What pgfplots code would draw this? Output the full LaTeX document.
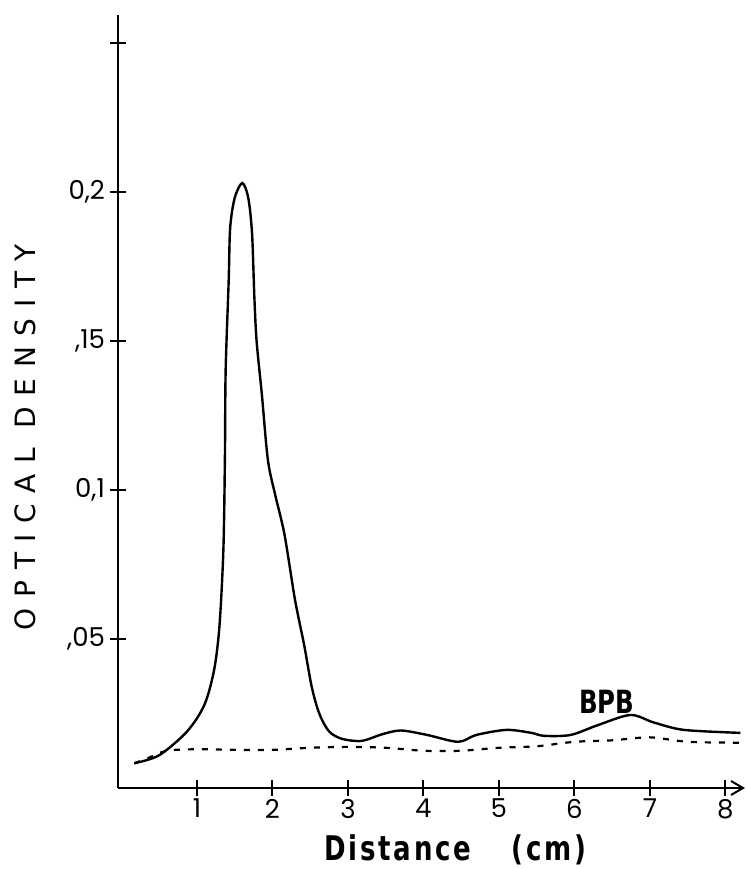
\documentclass[border=0pt]{standalone}
\usepackage{fontspec}
\usepackage{pgfplots}
\pgfplotsset{compat=1.18}
\usetikzlibrary{arrows.meta}
\setmainfont{DejaVu Sans}
\newfontfamily\tickfont{Poppins}
\newfontfamily\labfont{DejaVu Sans}[LetterSpace=38]
\newfontfamily\condfont{DejaVu Sans Condensed}[FakeStretch=0.85,LetterSpace=8]
\newfontfamily\bpbfont{DejaVu Sans Condensed}[FakeStretch=0.85]
\begin{document}
\begin{tikzpicture}
\path[use as bounding box] (-59pt,-40.5pt) rectangle (314.5pt,394pt);
\begin{axis}[
  scale only axis,
  width=313.5pt, height=386.5pt,
  xmin=-0.046, xmax=8.26,
  ymin=0, ymax=0.2594,
  axis x line=bottom, axis y line=left,
  x axis line style={-{Straight Barb[length=6pt,width=7pt]}, line width=1pt},
  y axis line style={-, line width=1pt},
  xtick={1,2,3,4,5,6,7,8},
  ytick={0.05,0.1,0.15,0.2,0.25},
  yticklabels={{,05},{0,1},{,15},{0,2},{}},
  /pgf/number format/assume math mode=true,
  tick align=center,
  major tick length=8pt,
  tick style={black, line width=1pt},
  xticklabel style={font=\tickfont\fontsize{13}{13}\selectfont, yshift=2pt},
  yticklabel style={font=\tickfont\fontsize{13}{13}\selectfont, xshift=1pt},
  xlabel={\condfont\bfseries Distance\hspace{1.2em}(cm)},
  ylabel={\labfont OPTICAL DENSITY},
  xlabel style={font=\fontsize{17}{17}\selectfont, at={(axis description cs:0.5,0)}, anchor=center, yshift=-31pt, xshift=12pt},
  ylabel style={font=\fontsize{14}{14}\selectfont, at={(axis description cs:0,0.454)}, anchor=center, yshift=46.5pt},
  clip=false,
]
\addplot[black, line width=1.2pt, smooth, tension=0.5] coordinates {
(0.17,0.0083) (0.5,0.011) (0.87,0.019) (1.1,0.028) (1.23,0.040) (1.3,0.055)
(1.35,0.08) (1.37,0.11) (1.38,0.14) (1.42,0.17) (1.44,0.188) (1.5,0.198)
(1.6,0.203) (1.68,0.198) (1.73,0.186) (1.76,0.165) (1.79,0.150) (1.86,0.132)
(1.94,0.11) (2.04,0.098) (2.16,0.085) (2.3,0.063) (2.42,0.048) (2.52,0.034)
(2.62,0.025) (2.75,0.019) (2.92,0.0165) (3.18,0.0158) (3.45,0.018) (3.7,0.0193)
(4.05,0.0178) (4.46,0.0155) (4.7,0.0178) (5.1,0.0195) (5.43,0.0185) (5.6,0.0175)
(5.95,0.0178) (6.3,0.021) (6.74,0.0245) (7.05,0.022) (7.45,0.0195) (8.2,0.0185)
};
\addplot[black, line width=1.1pt, smooth, dash pattern=on 3pt off 4pt] coordinates {
(0.17,0.0083) (0.35,0.010) (0.6,0.0125) (1,0.013) (1.5,0.0128) (2,0.0128)
(2.5,0.0135) (3,0.0138) (3.5,0.0135) (4,0.0125) (4.5,0.0125) (5,0.0135)
(5.5,0.014) (6,0.0155) (6.5,0.016) (7,0.017) (7.5,0.0155) (8.2,0.0152)
};
\node[font=\bpbfont\bfseries\fontsize{16}{16}\selectfont] at (axis cs:6.43,0.029) {BPB};
\end{axis}
\end{tikzpicture}
\end{document}
